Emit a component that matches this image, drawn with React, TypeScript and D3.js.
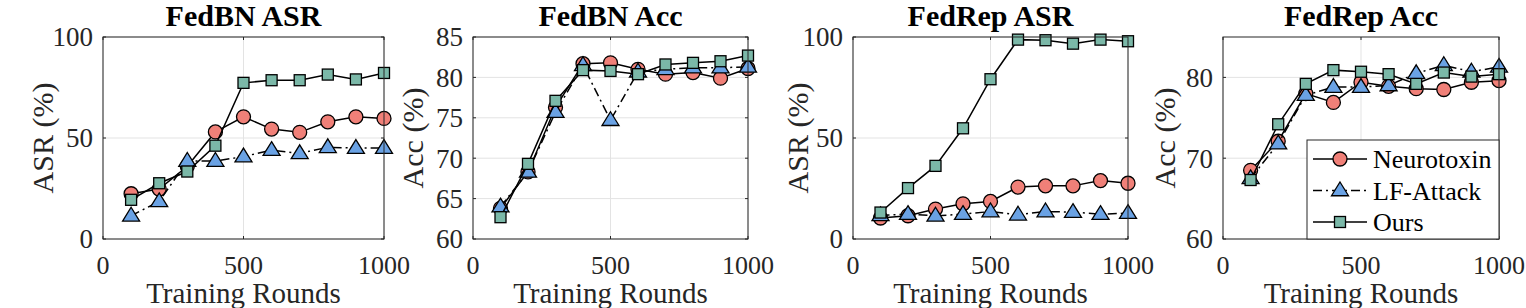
import * as d3 from 'd3';

const rounds = [100, 200, 300, 400, 500, 600, 700, 800, 900, 1000];

// FedBN ASR
const bnAsrNeuro = [22.4, 24.7, 36, 53, 60.5, 54.4, 52.8, 58, 60.5, 59.7];
const bnAsrLf = [11.5, 18.6, 38.6, 38.6, 40.8, 44, 42.4, 45.4, 45, 45];
const bnAsrOurs = [19.4, 27.6, 33.4, 46.2, 77.3, 78.6, 78.6, 81.4, 79, 82.2];

// FedBN Acc
const bnAccNeuro = [63.8, 68.3, 76.3, 81.7, 81.8, 81, 80.4, 80.6, 79.9, 81.1];
const bnAccLf = [64, 68.3, 75.7, 81.5, 74.7, 80.7, 81, 81.2, 81.2, 81.3];
const bnAccOurs = [62.7, 69.3, 77.1, 80.9, 80.8, 80.4, 81.6, 81.8, 82, 82.7];

// FedRep ASR
const repAsrNeuro = [10.4, 11.5, 14.8, 17.4, 18.6, 25.7, 26.3, 26.3, 28.9, 27.6];
const repAsrLf = [11.7, 12.3, 11.5, 12.3, 13.6, 12, 13.6, 13.3, 12.3, 12.8];
const repAsrOurs = [13.1, 25.2, 36.2, 54.8, 79.1, 98.7, 98.4, 96.7, 98.7, 97.9];

// FedRep Acc
const repAccNeuro = [68.5, 72.1, 78, 76.9, 79.4, 78.9, 78.6, 78.5, 79.4, 79.6];
const repAccLf = [67.5, 71.8, 77.8, 78.8, 78.8, 79, 80.5, 81.5, 80.7, 81.3];
const repAccOurs = [67.3, 74.2, 79.2, 80.9, 80.7, 80.4, 79.2, 80.6, 80.1, 80.4];

const seriesNames = ['Neurotoxin', 'LF-Attack', 'Ours'];
const xTicks = [0, 500, 1000];

const panels = [
  { title: 'FedBN ASR', yLabel: 'ASR (%)', domain: [0, 100], ticks: [0, 50, 100], data: [bnAsrNeuro, bnAsrLf, bnAsrOurs], left: 103, right: 384, labOff: 50 },
  { title: 'FedBN Acc', yLabel: 'Acc (%)', domain: [60, 85], ticks: [60, 65, 70, 75, 80, 85], data: [bnAccNeuro, bnAccLf, bnAccOurs], left: 473, right: 748, labOff: 50 },
  { title: 'FedRep ASR', yLabel: 'ASR (%)', domain: [0, 100], ticks: [0, 50, 100], data: [repAsrNeuro, repAsrLf, repAsrOurs], left: 853, right: 1128, labOff: 45 },
  { title: 'FedRep Acc', yLabel: 'Acc (%)', domain: [60, 85], ticks: [60, 70, 80], data: [repAccNeuro, repAccLf, repAccOurs], left: 1223, right: 1499, labOff: 48, legend: true },
];

const COLORS = ['#F08078', '#6AA2E4', '#7BB8A8'];
const DASH = [null, '9,4,2,4', null];
const TOP = 37;
const BOTTOM = 239;
const FONT = "'Liberation Serif', 'Times New Roman', Times, serif";
const AXIS = '#262626';

function Marker({ kind, x, y }: { kind: number; x: number; y: number }) {
  const common = { fill: COLORS[kind], stroke: '#000', strokeWidth: 1.3 };
  if (kind === 0) return <circle cx={x} cy={y} r={7} {...common} />;
  if (kind === 1) {
    const s = 8.5;
    return <path d={`M${x},${y - s}L${x + s},${y + s * 0.62}L${x - s},${y + s * 0.62}Z`} {...common} />;
  }
  return <rect x={x - 5.5} y={y - 5.5} width={11} height={11} {...common} />;
}

function Panel({ p }: { p: any }) {
  const x = d3.scaleLinear().domain([0, 1000]).range([p.left, p.right]);
  const y = d3.scaleLinear().domain(p.domain).range([BOTTOM, TOP]);
  const line = d3.line<number>().x((d, i) => x(rounds[i])).y(d => y(d));
  const cx = (p.left + p.right) / 2;
  return (
    <g>
      <rect x={p.left} y={TOP} width={p.right - p.left} height={BOTTOM - TOP} fill="#fff" />
      {/* grid */}
      {xTicks.map(t => (
        <line key={'gx' + t} x1={x(t)} x2={x(t)} y1={TOP} y2={BOTTOM} stroke="#e3e3e3" strokeWidth={1} />
      ))}
      {p.ticks.map((t: number) => (
        <line key={'gy' + t} x1={p.left} x2={p.right} y1={y(t)} y2={y(t)} stroke="#e3e3e3" strokeWidth={1} />
      ))}
      {/* ticks */}
      {xTicks.map(t => (
        <g key={'tx' + t}>
          <line x1={x(t)} x2={x(t)} y1={BOTTOM} y2={BOTTOM - 3} stroke={AXIS} />
          <line x1={x(t)} x2={x(t)} y1={TOP} y2={TOP + 3} stroke={AXIS} />
          <text x={x(t)} y={274} textAnchor="middle" fontSize={26} fill="#262626">{t}</text>
        </g>
      ))}
      {p.ticks.map((t: number) => (
        <g key={'ty' + t}>
          <line x1={p.left} x2={p.left + 3} y1={y(t)} y2={y(t)} stroke={AXIS} />
          <line x1={p.right} x2={p.right - 3} y1={y(t)} y2={y(t)} stroke={AXIS} />
          <text x={p.left - 10} y={y(t)} dy="0.35em" textAnchor="end" fontSize={27} fill="#262626">{t}</text>
        </g>
      ))}
      {/* series */}
      {p.data.map((vals: number[], si: number) => (
        <g key={'s' + si}>
          <path d={line(vals) || ''} fill="none" stroke="#000" strokeWidth={1.5} strokeDasharray={DASH[si] || undefined} />
          {vals.map((v, i) => <Marker key={i} kind={si} x={x(rounds[i])} y={y(v)} />)}
        </g>
      ))}
      <rect x={p.left} y={TOP} width={p.right - p.left} height={BOTTOM - TOP} fill="none" stroke={AXIS} strokeWidth={1} />
      {/* labels */}
      <text x={cx} y={26} textAnchor="middle" fontSize={30} fontWeight="bold" fill="#000">{p.title}</text>
      <text x={cx} y={303} textAnchor="middle" fontSize={29} fill="#262626">Training Rounds</text>
      <text transform={`translate(${p.left - p.labOff},${(TOP + BOTTOM) / 2}) rotate(-90)`} textAnchor="middle" fontSize={30} fill="#262626">{p.yLabel}</text>
      {p.legend && (
        <g>
          <rect x={1307} y={140} width={p.right - 1307} height={BOTTOM - 140} fill="#fff" stroke={AXIS} strokeWidth={1} />
          {seriesNames.map((name, i) => {
            const ly = 159 + i * 31.5;
            return (
              <g key={name}>
                <line x1={1313} x2={1367} y1={ly} y2={ly} stroke="#000" strokeWidth={1.5} strokeDasharray={DASH[i] || undefined} />
                <Marker kind={i} x={1340} y={ly} />
                <text x={1373} y={ly} dy="0.35em" fontSize={26} fill="#000">{name}</text>
              </g>
            );
          })}
        </g>
      )}
    </g>
  );
}

export default function App() {
  return (
    <svg width={1526} height={308} style={{ position: 'absolute', left: 0, top: 0, background: '#fff', fontFamily: FONT }}>
      {panels.map(p => <Panel key={p.title} p={p} />)}
    </svg>
  );
}
